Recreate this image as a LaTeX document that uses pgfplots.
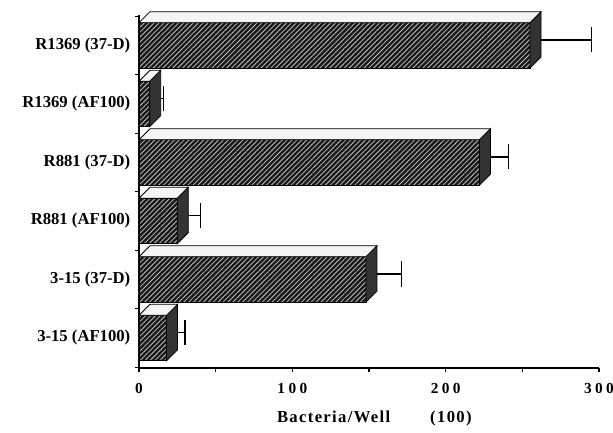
\documentclass[border=0pt]{standalone}
\usepackage{fontspec}
\setmainfont{Liberation Serif}
\newfontfamily\spacedA[LetterSpace=22]{Liberation Serif}
\newfontfamily\spacedB[LetterSpace=8]{Liberation Serif}
\usepackage{pgfplots}
\pgfplotsset{compat=1.18}
\usepackage{pgfplotstable}
\usetikzlibrary{patterns.meta}
\pgfdeclareplotmark{nothing}{}

\pgfplotstableread{
pos v e
0 18 12
1 148 23
2 25 15
3 222 19
4 7 9
5 255 40
}\data

\begin{document}
\begin{tikzpicture}
\begin{axis}[
  scale only axis,
  width=345pt, height=264.75pt,
  xmin=0, xmax=300, ymin=-0.513, ymax=5.52,
  axis x line*=bottom, axis y line*=left,
  axis line style={line width=0.9pt},
  tick align=outside,
  major tick length=3pt, minor tick length=3pt,
  tick style={black, line width=0.8pt},
  xtick={0,100,200,300},
  minor xtick={50,150,250},
  /pgf/number format/assume math mode=true,
  xticklabel style={font=\spacedA\bfseries\fontsize{11.5}{13}\selectfont, yshift=-5pt},
  ytick={-0.5,0.5,...,5.5}, yticklabels={},
  extra y ticks={0,1,2,3,4,5},
  extra y tick labels={3-15 (AF100),3-15 (37-D),R881 (AF100),R881 (37-D),R1369 (AF100),R1369 (37-D)},
  extra y tick style={major tick length=0pt, yticklabel style={font=\bfseries\fontsize{12.5}{15}\selectfont, xshift=-3pt}},
  xlabel={Bacteria/Well\hspace{2.4em}(100)},
  xlabel style={font=\spacedB\bfseries\fontsize{12.5}{14}\selectfont, at={(axis description cs:0.5,0)}, anchor=center, yshift=-37.5pt, xshift=4pt},
  clip=false,
]
% error bars (from the back edge of each bar)
\addplot[only marks, mark=nothing,
  error bars/.cd, x dir=plus, x explicit, error mark=|,
  error bar style={black, line width=0.9pt},
  error mark options={black, line width=0.9pt, mark size=9.4pt}]
  table[x expr=\thisrow{v}+7.2, y expr=\thisrow{pos}+0.094, x error expr=\thisrow{e}-7.2]{\data};
% front faces
\addplot[xbar, bar width=34.1pt, draw=black, line width=0.6pt, fill=black!90,
  postaction={pattern={Lines[angle=45,distance=2.6pt,line width=0.6pt]}, pattern color=gray!50}]
  table[x=v, y=pos]{\data};
% top and side faces
\addplot[scatter, only marks, mark=nothing,
  visualization depends on={\thisrow{v} \as \barval},
  scatter/@pre marker code/.code={%
    \filldraw[fill=black!80, draw=black, line width=0.6pt]
      (0pt,-17.05pt) -- (0pt,17.05pt) -- (8.25pt,25.3pt) -- (8.25pt,-8.8pt) -- cycle;
    \filldraw[fill=gray!8, draw=black, line width=0.6pt]
      ({-\barval*1.15pt},17.05pt) -- (0pt,17.05pt) -- (8.25pt,25.3pt) -- ({8.25pt-\barval*1.15pt},25.3pt) -- cycle;
  },
  scatter/@post marker code/.code={}]
  table[x=v, y=pos]{\data};
\coordinate (o) at (rel axis cs:0,0);
\end{axis}
\pgfresetboundingbox
\path (o) ++(-104.25pt,-48pt) rectangle ++(459.75pt,324pt);
\end{tikzpicture}
\end{document}
